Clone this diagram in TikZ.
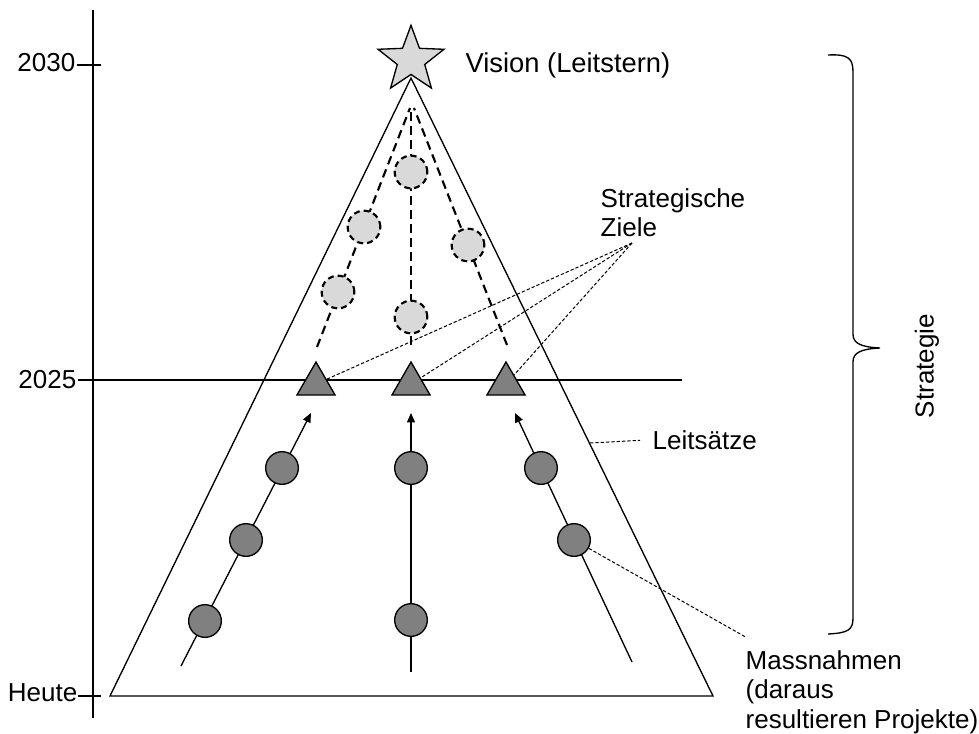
\documentclass[tikz,border=0pt]{standalone}
\usepackage{fontspec}
\setmainfont{Liberation Sans}
\usepackage{xcolor}
\usepackage{tikz}
\usetikzlibrary{shapes.geometric,arrows.meta,calc}
\definecolor{VSGray}  {HTML}{D9D9D9}
\definecolor{VSGrayDk}{HTML}{808080}
\tikzset{
  lbl/.style={font=\fontsize{19.5}{22}\selectfont,inner sep=0pt},
  stepdot/.style={circle,draw,line width=1pt,fill=VSGrayDk,minimum size=24.5pt,inner sep=0pt},
  goaldot/.style={circle,draw,line width=1.6pt,dash pattern=on 4.5pt off 3pt,fill=VSGray,minimum size=24.5pt,inner sep=0pt},
  goaltri/.style={regular polygon,regular polygon sides=3,draw,line width=1pt,fill=VSGrayDk,minimum size=33pt,inner sep=0pt},
  myarr/.style={-{Triangle[length=7pt,width=6pt]},line width=1pt},
  goalline/.style={line width=1.6pt,dash pattern=on 6.5pt off 4pt},
  dasharr/.style={line width=0.75pt,dash pattern=on 2.5pt off 1.5pt}
}
\begin{document}
\begin{tikzpicture}[x=0.75pt,y=-0.75pt,line width=1pt]
    \useasboundingbox (0,0) rectangle (979,733);
    % time axis
    \draw (93,10) -- (93,718);
    \node[lbl,anchor=base east] (y2030) at (76,71) {2030};
    \node[lbl,anchor=base east] (y2025) at (77,388) {2025};
    \node[lbl,anchor=base east] (yheute) at (78,701) {Heute};
    \draw (77,65) -- (101,65);
    \draw (78,380) -- (682,380);
    \draw (78,696) -- (101,696);
    % pyramid with the guiding star on top
    \draw (110,696) -- (411,78) -- (713,696) -- cycle;
    \node[star,star points=5,star point ratio=2.4,draw,fill=VSGray,
          minimum size=52pt,inner sep=0pt] (vision) at (411,60) {};
    \node[lbl,font=\fontsize{20.5}{24}\selectfont,anchor=base west] (vlbl) at (465,72) {Vision (Leitstern)};
    % dashed paths up to the vision
    \coordinate (gl0) at (317,347);  \coordinate (gl1) at (410,108);
    \coordinate (gm0) at (411,345);  \coordinate (gm1) at (411,108);
    \coordinate (gr0) at (507,345);  \coordinate (gr1) at (414,108);
    \draw[goalline] (gl0) -- (gl1);
    \draw[goalline] (gm0) -- (gm1);
    \draw[goalline] (gr0) -- (gr1);
    \node[goaldot] (gl2) at (338,292) {};
    \node[goaldot] (gl3) at (364,227) {};
    \node[goaldot] (gm2) at (411,317) {};
    \node[goaldot] (gm3) at (411,172) {};
    \node[goaldot] (gr2) at (468,245) {};
    % goals on the 2025 line
    \node[goaltri] (tri1) at (316,384) {};
    \node[goaltri] (tri2) at (411,384) {};
    \node[goaltri] (tri3) at (506,384) {};
    % measures leading to the goals
    \coordinate (sl0) at (181,666);  \coordinate (sl1) at (311,413);
    \coordinate (sm0) at (411,672);  \coordinate (sm1) at (411,413);
    \coordinate (sr0) at (632,662);  \coordinate (sr1) at (515,413);
    \draw[myarr] (sl0) -- (sl1);
    \draw[myarr] (sm0) -- (sm1);
    \draw[myarr] (sr0) -- (sr1);
    \node[stepdot] (lc1) at (205,621) {};
    \node[stepdot] (lc2) at (246,540) {};
    \node[stepdot] (lc3) at (282,468) {};
    \node[stepdot] (mc1) at (411,620) {};
    \node[stepdot] (mc2) at (411,468) {};
    \node[stepdot] (rc1) at (541,468) {};
    \node[stepdot] (rc2) at (574,540) {};
    % labels on the right
    \node[lbl,anchor=north west,align=left] (ziele) at (600,188) {Strategische\\Ziele};
    \coordinate (zl) at (632,243);
    \draw[dasharr] (zl) -- (tri1);
    \draw[dasharr] (zl) -- (tri2);
    \draw[dasharr] (zl) -- (tri3);
    \node[lbl,anchor=base west] (leit) at (652,449) {Leitsätze};
    \coordinate (le) at (590,443);
    \draw[dasharr,shorten >=9pt] (le) -- (leit.west);
    \node[lbl,anchor=north west,align=left] (mass) at (745,650)
      {Massnahmen\\(daraus\\resultieren Projekte)};
    \draw[dasharr] (rc2) -- ([yshift=10pt]mass.north west);
    % brace for the strategy
    \draw (828,55) .. controls (848,54) and (853,58) .. (853,72) -- (853,334)
      .. controls (853,343) and (860,347) .. (880,348)
      .. controls (860,349) and (853,353) .. (853,362) -- (853,618)
      .. controls (853,630) and (848,633) .. (828,634);
    \node[lbl,rotate=90] (strat) at (927,366) {Strategie};
\end{tikzpicture}
\end{document}
